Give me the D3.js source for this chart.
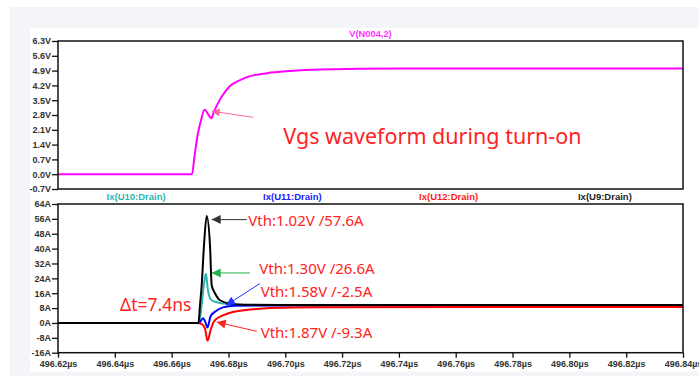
<!DOCTYPE html>
<html>
<head>
<meta charset="utf-8">
<script src="https://cdn.jsdelivr.net/npm/d3@7"></script>
<style>
body { margin: 0; background: #fff; }
svg { display: block; }
</style>
</head>
<body>
<script>
var width = 699, height = 376;

// time axis (µs) and tick values
var tTicks = [496.62, 496.64, 496.66, 496.68, 496.70, 496.72, 496.74, 496.76, 496.78, 496.80, 496.82, 496.84];
var vTicks = [-0.7, 0.0, 0.7, 1.4, 2.1, 2.8, 3.5, 4.2, 4.9, 5.6, 6.3];
var iTicks = [-16, -8, 0, 8, 16, 24, 32, 40, 48, 56, 64];

// V(N004,2) - gate voltage
var vgsTime = [496.62, 496.66717, 496.66805, 496.66928, 496.67034, 496.67157, 496.67403, 496.67474,
  496.67632, 496.67773, 496.68054, 496.68406, 496.68653, 496.69357, 496.70166, 496.71222, 496.74038, 496.84];
var vgsValue = [0.0, 0.0, 0.85, 1.95, 2.55, 3.05, 2.65, 2.9,
  3.36, 3.69, 4.17, 4.45, 4.59, 4.78, 4.88, 4.95, 5.0, 5.0];

// Ix(U9:Drain) - black
var u9Time = [496.62, 496.66946, 496.66998, 496.67058, 496.67139, 496.67234, 496.6735, 496.6741,
  496.67526, 496.67702, 496.68054, 496.68582, 496.70518, 496.84];
var u9Value = [0, 0, 9.5, 20.3, 41.8, 57.6, 41.8, 20.3, 16.0, 12.2, 10.4, 9.8, 9.6, 9.6];

// Ix(U10:Drain) - teal
var u10Time = [496.62, 496.66963, 496.67093, 496.67157, 496.6721, 496.67262, 496.67315, 496.6741,
  496.67597, 496.67808, 496.6823, 496.69462, 496.84];
var u10Value = [0, 0, 14.9, 23.0, 26.6, 19.4, 14.9, 12.2, 11.1, 10.4, 9.9, 9.5, 9.5];

// Ix(U11:Drain) - blue
var u11Time = [496.62, 496.66963, 496.67104, 496.67174, 496.67262, 496.67368, 496.67526, 496.67808,
  496.6823, 496.6911, 496.84];
var u11Value = [0, 0, 2.5, 1.0, -2.5, 3.5, 6.0, 8.4, 9.2, 9.4, 9.4];

// Ix(U12:Drain) - red
var u12Time = [496.62, 496.66893, 496.67058, 496.67174, 496.67262, 496.67386, 496.67526, 496.67808,
  496.6816, 496.68758, 496.69462, 496.71222, 496.84];
var u12Value = [0, 0, -0.6, -3.0, -9.6, -3.0, 1.5, 4.1, 5.9, 7.2, 8.0, 8.5, 8.6];

var legendNames = ["Ix(U10:Drain)", "Ix(U11:Drain)", "Ix(U12:Drain)", "Ix(U9:Drain)"];
var legendColors = ["#2fb3b3", "#1a1aff", "#ff1a1a", "#222"];

var svg = d3.select("body").append("svg")
    .attr("width", width)
    .attr("height", height)
    .style("font-family", "'Noto Sans', sans-serif");

// screenshot background
svg.append("rect").attr("x", 10).attr("y", 7).attr("width", width - 10).attr("height", height - 7).attr("fill", "#f4f5f8");
svg.append("rect").attr("x", 30).attr("y", 28).attr("width", width - 30).attr("height", 343.7).attr("fill", "#fff");

var x = d3.scaleLinear().domain([496.62, 496.84]).range([58, 683]);
var yV = d3.scaleLinear().domain([-0.7, 6.3]).range([189, 41]);
var yI = d3.scaleLinear().domain([-16, 64]).range([352.7, 204]);

var defs = svg.append("defs");
defs.append("clipPath").attr("id", "clipTop").append("rect")
    .attr("x", 58).attr("y", 41).attr("width", 625).attr("height", 148);
defs.append("clipPath").attr("id", "clipBot").append("rect")
    .attr("x", 58).attr("y", 204).attr("width", 625).attr("height", 148.7);

var tickFont = "'Liberation Sans', Arial, sans-serif";

function styleAxis(g) {
  g.select(".domain").remove();
  g.selectAll(".tick line").attr("stroke", "#111").attr("stroke-width", 1.3);
  g.selectAll(".tick text")
    .attr("fill", "#333")
    .style("font-family", tickFont)
    .style("font-weight", "bold")
    .style("font-size", "9px");
}

// y axes
svg.append("g")
    .attr("transform", "translate(58,0)")
    .call(d3.axisLeft(yV).tickValues(vTicks).tickSize(6).tickPadding(1)
      .tickFormat(function(d) { return d.toFixed(1) + "V"; }))
    .call(styleAxis);

svg.append("g")
    .attr("transform", "translate(58,0)")
    .call(d3.axisLeft(yI).tickValues(iTicks).tickSize(6).tickPadding(1)
      .tickFormat(function(d) { return d + "A"; }))
    .call(styleAxis);

// x axis (bottom pane)
svg.append("g")
    .attr("transform", "translate(0,352.7)")
    .call(d3.axisBottom(x).tickValues(tTicks).tickSize(5).tickPadding(3)
      .tickFormat(function(d) { return d.toFixed(2) + "µs"; }))
    .call(styleAxis);

// traces
var line = function(ys, times) {
  return d3.line()
    .x(function(d, i) { return x(times[i]); })
    .y(function(d) { return ys(d); })
    .curve(d3.curveMonotoneX);
};

svg.append("path")
    .attr("clip-path", "url(#clipTop)")
    .attr("d", line(yV, vgsTime)(vgsValue))
    .attr("fill", "none").attr("stroke", "#ff00ff").attr("stroke-width", 2);

var traces = [
  [u10Time, u10Value, legendColors[0]],
  [u11Time, u11Value, "#0000ff"],
  [u12Time, u12Value, "#ff0000"],
  [u9Time, u9Value, "#000"]
];
traces.forEach(function(tr) {
  svg.append("path")
      .attr("clip-path", "url(#clipBot)")
      .attr("d", line(yI, tr[0])(tr[1]))
      .attr("fill", "none").attr("stroke", tr[2]).attr("stroke-width", 2)
      .attr("stroke-linejoin", "round");
});

// frames
svg.append("rect").attr("x", 58).attr("y", 41).attr("width", 625).attr("height", 148)
    .attr("fill", "none").attr("stroke", "#111").attr("stroke-width", 1.5);
svg.append("rect").attr("x", 58).attr("y", 204).attr("width", 625).attr("height", 148.7)
    .attr("fill", "none").attr("stroke", "#111").attr("stroke-width", 1.5);

// pane titles
svg.append("text")
    .attr("x", x(496.73)).attr("y", 37)
    .attr("text-anchor", "middle")
    .attr("fill", "#ff33ff")
    .style("font-family", tickFont).style("font-weight", "bold").style("font-size", "9.3px")
    .text("V(N004,2)");

legendNames.forEach(function(name, i) {
  svg.append("text")
      .attr("x", x(496.62 + 0.055 * (i + 0.5)))
      .attr("y", 200)
      .attr("text-anchor", "middle")
      .attr("fill", legendColors[i])
      .style("font-family", tickFont).style("font-weight", "bold").style("font-size", "9.5px")
      .text(name);
});

// annotations
function arrow(x1, y1, x2, y2, color, head) {
  svg.append("line")
      .attr("x1", x1).attr("y1", y1).attr("x2", x2).attr("y2", y2)
      .attr("stroke", color).attr("stroke-width", 1);
  var a = Math.atan2(y2 - y1, x2 - x1);
  var len = head, w = head * 0.5;
  var bx = x2 - len * Math.cos(a), by = y2 - len * Math.sin(a);
  var px = -Math.sin(a) * w, py = Math.cos(a) * w;
  svg.append("path")
      .attr("d", "M" + x2 + "," + y2 + "L" + (bx + px) + "," + (by + py) + "L" + (bx - px) + "," + (by - py) + "Z")
      .attr("fill", color);
}

var red = "#ff2222";

// Vgs pane
arrow(x(496.68875), yV(2.69), x(496.6741), yV(2.98), "#ff66aa", 8);
svg.append("text")
    .attr("x", x(496.69931)).attr("y", yV(1.45))
    .attr("fill", red).style("font-size", "21.5px")
    .text("Vgs waveform during turn-on");

// current pane
arrow(x(496.68642), yI(55.6), x(496.6741), yI(55.6), "#333", 9);
arrow(x(496.68758), yI(26.9), x(496.6741), yI(26.9), "#22b04c", 9);
arrow(x(496.6911), yI(21.2), x(496.67914), yI(9.5), "#2233ff", 9);
arrow(x(496.68994), yI(-4.5), x(496.67586), yI(0.5), "#ff2222", 9);

var notes = [
  ["Vth:1.02V /57.6A", 496.68699, 55.3],
  ["Vth:1.30V /26.6A", 496.69086, 29.3],
  ["Vth:1.58V /-2.5A", 496.69135, 17.1],
  ["Vth:1.87V /-9.3A", 496.69135, -5.2]
];
notes.forEach(function(n) {
  svg.append("text")
      .attr("x", x(n[1])).attr("y", yI(n[2]))
      .attr("dy", "0.36em")
      .attr("fill", red).style("font-size", "15px")
      .text(n[0]);
});

svg.append("text")
    .attr("x", x(496.64182)).attr("y", yI(9.9))
    .attr("dy", "0.36em")
    .attr("fill", red).style("font-size", "17.5px")
    .text("Δt=7.4ns");
</script>
</body>
</html>
